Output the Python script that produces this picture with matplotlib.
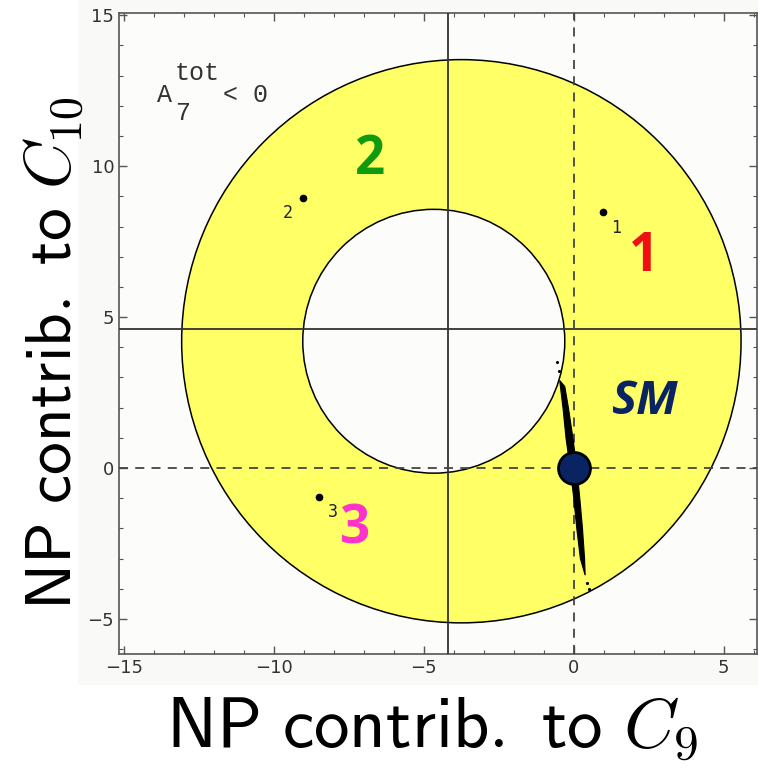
import matplotlib
matplotlib.use('Agg')
import matplotlib.pyplot as plt
from matplotlib.patches import Circle, Polygon, Rectangle
from matplotlib.ticker import MultipleLocator

plt.rcParams['mathtext.fontset'] = 'cm'

# ring of allowed region (C9, C10)
outer_center = (-3.75, 4.2)
outer_radius = 9.33
inner_center = (-4.67, 4.2)
inner_radius = 4.37

# reference lines
solid_x = -4.2
solid_y = 4.6

# benchmark points and their small labels
pts_x = [0.97, -9.03, -8.5]
pts_y = [8.48, 8.94, -0.96]
pts_names = ['1', '2', '3']
pts_lab_x = [1.4, -9.55, -8.05]
pts_lab_y = [7.95, 8.45, -1.45]

# big coloured region labels
big_names = ['1', '2', '3', 'SM']
big_x = [2.35, -6.8, -7.3, 2.35]
big_y = [7.0, 10.2, -2.05, 2.2]
big_colors = ['#ee1111', '#109a10', '#ff33cc', '#0a2463']

# scan streak outline (C9, C10)
streak_x = [-0.47, -0.36, -0.26, -0.12, 0.0, 0.1, 0.22, 0.38, 0.36, 0.29, 0.2, 0.1, -0.03, -0.18, -0.3, -0.47]
streak_y = [2.9, 2.0, 1.0, 0.0, -1.0, -2.0, -3.0, -3.55, -3.0, -2.0, -1.0, 0.0, 1.0, 2.0, 2.7, 2.9]
stray_x = [-0.57, -0.5, 0.45, 0.5]
stray_y = [3.5, 3.2, -3.8, -4.0]

fig = plt.figure(figsize=(7.58, 7.73), dpi=100)
fig.patches.append(Rectangle((78 / 758, 1 - 685 / 773), 1 - 78 / 758, 685 / 773,
                             transform=fig.transFigure, facecolor='#f9faf7', edgecolor='none', zorder=-5))
ax = fig.add_axes([0.157, 0.154, 0.842, 0.829])
ax.set_facecolor('#fcfdfb')

ax.add_patch(Circle(outer_center, outer_radius, facecolor='#ffff66', edgecolor='black', lw=1.1, zorder=1))
ax.add_patch(Circle(inner_center, inner_radius, facecolor='#fcfdfb', edgecolor='black', lw=1.1, zorder=2))

ax.axvline(solid_x, color='#333333', lw=1.3, zorder=3)
ax.axhline(solid_y, color='#333333', lw=1.3, zorder=3)
ax.axvline(0, color='#444444', lw=1.3, ls=(0, (5, 4)), zorder=3)
ax.axhline(0, color='#444444', lw=1.3, ls=(0, (5, 4)), zorder=3)

ax.add_patch(Polygon(list(zip(streak_x, streak_y)), closed=True, facecolor='black', edgecolor='black', lw=0.8, zorder=4))
ax.plot(stray_x, stray_y, 'k.', ms=2.5, zorder=4)

ax.plot(pts_x, pts_y, 'ko', ms=4.5, zorder=5)
for n, lx, ly in zip(pts_names, pts_lab_x, pts_lab_y):
    ax.text(lx, ly, n, family='DejaVu Sans Mono', fontsize=12, color='#222222', ha='center', va='center', zorder=5)

ax.plot([0], [0], 'o', ms=23, mfc='#0a2463', mec='black', mew=2, zorder=6)

for n, bx, by, c in zip(big_names, big_x, big_y, big_colors):
    ax.text(bx, by, n, color=c, fontsize=34 if n == 'SM' else 38, fontweight='bold',
            style='italic' if n == 'SM' else 'normal', family='Open Sans',
            ha='center', va='center', zorder=7)

# A_7^tot < 0 annotation, Mathematica style
note = dict(family='Liberation Mono', fontsize=18, color='#333333', ha='center', va='center')
ax.text(-13.65, 12.35, 'A', **note)
ax.text(-12.55, 13.08, 'tot', **note)
ax.text(-13.05, 11.75, '7', **note)
ax.text(-10.95, 12.35, '< 0', **note)

ax.set_xlim(-15.17, 6.12)
ax.set_ylim(-6.16, 15.07)
ax.xaxis.set_major_locator(MultipleLocator(5))
ax.xaxis.set_minor_locator(MultipleLocator(1))
ax.yaxis.set_major_locator(MultipleLocator(5))
ax.yaxis.set_minor_locator(MultipleLocator(1))
ax.tick_params(which='both', direction='in', top=True, right=True, color='#555555',
               labelsize=13, labelcolor='#333333')
ax.tick_params(which='major', length=6, width=1)
ax.tick_params(which='minor', length=3, width=0.8)
for s in ax.spines.values():
    s.set_color('#555555')
    s.set_linewidth(1.2)

ax.set_xlabel(r'$\mathsf{NP\ contrib.\ to}\ C_9$', fontsize=51)
ax.set_ylabel(r'$\mathsf{NP\ contrib.\ to}\ C_{10}$', fontsize=47)
ax.xaxis.set_label_coords(0.49, -0.062, transform=ax.transAxes)
ax.xaxis.label.set_va('top')
ax.yaxis.set_label_coords(-0.052, 0.47, transform=ax.transAxes)

fig.savefig('out.png', dpi=100)
